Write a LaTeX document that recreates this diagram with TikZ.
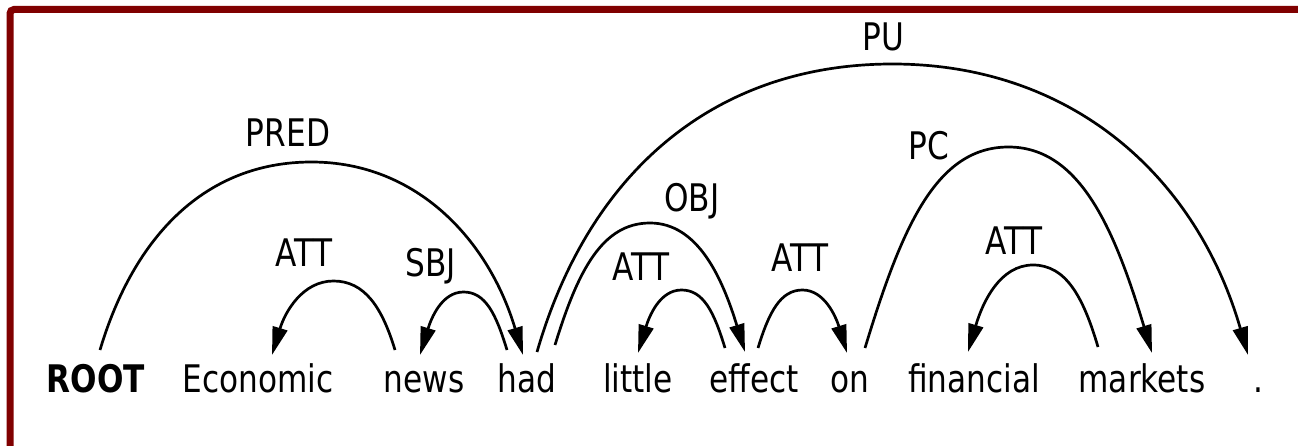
\documentclass[tikz,border=0pt]{standalone}
\usepackage{fontspec}
\setmainfont{DejaVu Sans}[FakeStretch=0.82]
\usetikzlibrary{arrows.meta,calc}
\definecolor{framered}{HTML}{800000}
\begin{document}
\begin{tikzpicture}[x=1pt,y=1pt,
  word/.style={anchor=base,inner sep=0pt,font=\fontsize{38}{40}\selectfont},
  lab/.style={anchor=center,inner sep=0pt,text height=27pt,text depth=0pt,font=\fontsize{38}{40}\selectfont},
  dep/.style={line width=2.7pt,-{Triangle[length=28pt,width=15pt]}}]
\useasboundingbox (0,0) rectangle (1298,445);
\clip (0,0) rectangle (1298,445);
\fill[white] (0,0) rectangle (1298,445);
% frame
\draw[framered,line width=7pt,rounded corners=4pt] (10,-20) -- (10,435.5) -- (1320,435.5);
% words
\node[word] (root) at (96,53) {\textbf{ROOT}};
\node[word] (economic) at (258,53) {Economic};
\node[word] (news) at (424,53) {news};
\node[word] (had) at (527,53) {had};
\node[word] (little) at (638,53) {little};
\node[word] (effect) at (754,53) {effect};
\node[word] (on) at (850,53) {on};
\node[word] (financial) at (974,53) {financial};
\node[word] (markets) at (1142,53) {markets};
\node[word] (dot) at (1258,53) {.};
% labels
\node[lab] (lpred) at (288,312) {PRED};
\node[lab] (latt1) at (304,192) {ATT};
\node[lab] (lsbj) at (431,182) {SBJ};
\node[lab] (lpu) at (883,408) {PU};
\node[lab] (lobj) at (692,247) {OBJ};
\node[lab] (latt2) at (641,178) {ATT};
\node[lab] (latt3) at (800,187) {ATT};
\node[lab] (lpc) at (929,299) {PC};
\node[lab] (latt4) at (1014,204) {ATT};
% arc end points and tops
\coordinate (predS) at ($(root.base)+(4,42)$);
\coordinate (predE) at ($(had.base)+(-4,37)$);
\coordinate (predT) at (311.5,283);
\coordinate (att1S) at ($(news.base)+(-29,42)$);
\coordinate (att1E) at ($(economic.base)+(14,37)$);
\coordinate (att1T) at (333.5,164);
\coordinate (sbjS) at ($(had.base)+(-20,42)$);
\coordinate (sbjE) at ($(news.base)+(-4,37)$);
\coordinate (sbjT) at (463.5,153);
\coordinate (puS) at ($(had.base)+(10,40)$);
\coordinate (puE) at ($(dot.base)+(-10,37)$);
\coordinate (puT) at (892.5,381);
\coordinate (objS) at ($(had.base)+(28,47)$);
\coordinate (objE) at ($(effect.base)+(-9,40)$);
\coordinate (objT) at (650,222);
\coordinate (att2S) at ($(effect.base)+(-29,44)$);
\coordinate (att2E) at ($(little.base)+(0,39)$);
\coordinate (att2T) at (681.5,155);
\coordinate (att3S) at ($(effect.base)+(4,44)$);
\coordinate (att3E) at ($(on.base)+(-3,39)$);
\coordinate (att3T) at (802.5,155);
\coordinate (pcS) at ($(on.base)+(15,44)$);
\coordinate (pcE) at ($(markets.base)+(10,39)$);
\coordinate (pcT) at (1008.5,298);
\coordinate (att4S) at ($(markets.base)+(-44,45)$);
\coordinate (att4E) at ($(financial.base)+(-6,40)$);
\coordinate (att4T) at (1033,180);
% arcs
\draw[dep] (predS) .. controls +(34,114) and +(-106,0) .. (predT) .. controls +(106,0) and +(-34,114) .. (predE);
\draw[dep] (att1S) .. controls +(-13,43) and +(31,0) .. (att1T) .. controls +(-31,0) and +(13,43) .. (att1E);
\draw[dep] (sbjS) .. controls +(-11,36) and +(22,0) .. (sbjT) .. controls +(-22,0) and +(11,36) .. (sbjE);
\draw[dep] (puS) .. controls +(52,180) and +(-178,0) .. (puT) .. controls +(178,0) and +(-52,180) .. (puE);
\draw[dep] (objS) .. controls +(23,75) and +(-47.5,0) .. (objT) .. controls +(47.5,0) and +(-23,75) .. (objE);
\draw[dep] (att2S) .. controls +(-11,36) and +(22,0) .. (att2T) .. controls +(-22,0) and +(11,36) .. (att2E);
\draw[dep] (att3S) .. controls +(11,36) and +(-22,0) .. (att3T) .. controls +(22,0) and +(-11,36) .. (att3E);
\draw[dep] (pcS) .. controls +(37,122) and +(-72,0) .. (pcT) .. controls +(72,0) and +(-37,122) .. (pcE);
\draw[dep] (att4S) .. controls +(-15,51) and +(32.5,0) .. (att4T) .. controls +(-32.5,0) and +(15,51) .. (att4E);
\end{tikzpicture}
\end{document}
